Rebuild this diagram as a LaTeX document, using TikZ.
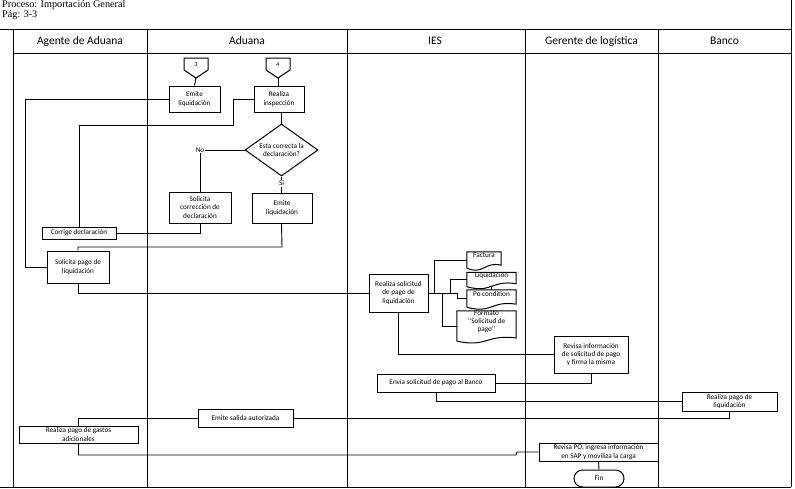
\documentclass[tikz,border=0pt]{standalone}
\usepackage{fontspec}
\setmainfont{Carlito}
\newfontfamily\titlefont{Liberation Serif}
\usetikzlibrary{calc,shapes.geometric}
\newcommand\docshape[1]{\draw[boxline] (#1.south west) -- (#1.north west) -- (#1.north east) -- ($(#1.south east)+(0,-3)$) .. controls ($(#1.south)+(0,-7)$) and ($(#1.south)+(0,7)$) .. (#1.south west);}
\tikzset{
  boxline/.style={line width=1pt},
  lane/.style={line width=0.9pt},
  conn/.style={line width=0.9pt},
  box/.style={draw, boxline, fill=white, inner sep=0pt, align=center, font=\fontsize{7.2}{8.4}\selectfont},
  doc/.style={inner sep=0pt, align=center, font=\fontsize{7.2}{8}\selectfont},
  head/.style={font=\fontsize{11.5}{13}\selectfont, inner sep=0pt},
  lbl/.style={font=\fontsize{7.2}{8}\selectfont, inner sep=0.5pt, fill=white},
}
\begin{document}
\begin{tikzpicture}[x=1pt,y=-1pt]
\useasboundingbox (0,0) rectangle (795,488);
% title
\node[anchor=north west, font=\titlefont\fontsize{10.2}{10}\selectfont, align=left, inner sep=0pt] (title) at (2,0.5) {Proceso: Importación General\\Pág: 3-3};
% frame and lanes
\draw[lane] (0,29) -- (791,29);
\draw[lane] (13,53) -- (791,53);
\draw[lane] (0,487) -- (791,487);
\draw[lane] (791,0) -- (791,487);
\draw[lane] (13,29) -- (13,487);
\draw[lane] (147,29) -- (147,487);
\draw[lane] (347,29) -- (347,487);
\draw[lane] (525,29) -- (525,487);
\draw[lane] (658,29) -- (658,487);
\node[head] (h1) at (80,41) {Agente de Aduana};
\node[head] (h2) at (247,41) {Aduana};
\node[head] (h3) at (435,41) {IES};
\node[head] (h4) at (591.5,41) {Gerente de logística};
\node[head] (h5) at (724.5,41) {Banco};
% off-page connectors
\draw[boxline, fill=white] (184,58) -- (208,58) -- (208,70) -- (196,78) -- (184,70) -- cycle;
\node[font=\fontsize{6}{7}\selectfont, inner sep=0pt] (c3) at (196,65) {3};
\coordinate (c3tip) at (196,78);
\draw[boxline, fill=white] (266,58) -- (290,58) -- (290,70) -- (278,78) -- (266,70) -- cycle;
\node[font=\fontsize{6}{7}\selectfont, inner sep=0pt] (c4) at (278,65) {4};
\coordinate (c4tip) at (278,78);
% Aduana
\node[box, minimum width=51, minimum height=26] (e1) at (194.5,99) {Emite\\liquidación};
\node[box, minimum width=50, minimum height=26] (ri) at (279,99) {Realiza\\inspección};
\node[box, shape=diamond, aspect=1.4, minimum width=73, minimum height=52] (dia) at (281.5,150) {Esta correcta la\\declaración?};
\node[lbl] (no) at (200,150) {No};
\node[lbl] (si) at (281.5,183.5) {Si};
\node[box, minimum width=62, minimum height=31] (sol) at (200,207.5) {Solicita\\corrección de\\declaración};
\node[box, minimum width=60, minimum height=30] (e2) at (282,208) {Emite\\liquidación};
% Agente
\node[box, minimum width=74, minimum height=12] (cor) at (79,233) {Corrige declaración};
\node[box, minimum width=62, minimum height=32] (sp) at (78,267) {Solicita pago de\\liquidación};
% IES
\node[box, minimum width=59, minimum height=38] (rs) at (398.5,293) {Realiza solicitud\\de pago de\\liquidación};
\node[doc, minimum width=34, minimum height=16] (fac) at (484,260) {Factura\\[1pt]};
\docshape{fac}
\node[doc, minimum width=49, minimum height=11] (liq) at (491.5,279.5) {Liquidación\\[1pt]};
\docshape{liq}
\node[doc, minimum width=49, minimum height=17] (po) at (491.5,298.5) {Po condition\\[1pt]};
\docshape{po}
\node[doc, minimum width=59, minimum height=28] (fmt) at (486.5,326) {Formato\\\symbol{96}\symbol{96}Solicitud de\\pago\symbol{96}\symbol{96}\\[1pt]};
\docshape{fmt}
\node[box, minimum width=118, minimum height=18] (env) at (436,383) {Envía solicitud de pago al Banco};
% Gerente
\node[box, minimum width=74, minimum height=37] (ri2) at (591,354.5) {Revisa información\\de solicitud de pago\\y firma la misma};
\node[box, minimum width=119, minimum height=18] (rpo) at (598.5,452) {Revisa PO, ingresa información\\en SAP y moviliza la carga};
\node[box, rounded corners=8.5pt, minimum width=50, minimum height=17] (fin) at (599,478.5) {Fin};
% Banco
\node[box, minimum width=95, minimum height=19] (bp) at (729.5,401.5) {Realiza pago de\\liquidación};
% bottom Aduana / Agente
\node[box, minimum width=95, minimum height=18] (es) at (245.5,418) {Emite salida autorizada};
\node[box, minimum width=119, minimum height=17] (gas) at (78.5,434.5) {Realiza pago de gastos\\adicionales};
% junctions
\coordinate (j1) at (434,293);
\coordinate (j2) at (442,293);
\coordinate (j3) at (450,293);
\coordinate (j4) at (457,293);
\coordinate (k1) at (517,454);
% connectors
\draw[conn] (c3tip) -- (e1.north);
\draw[conn] (c4tip) -- (c4tip |- ri.north);
\draw[conn] (e1.west) -- (25,99) |- (sp.west);
\draw[conn] (ri.west) -- (233,99) -- (233,125) -| (cor.north);
\draw[conn] (ri.south -| dia.north) -- (dia.north);
\draw[conn] (dia.west) -- (no.east);
\draw[conn] (no.south) -- (sol.north);
\draw[conn] (dia.south) -- (si.north);
\draw[conn] (si.south) -- (si.south |- e2.north);
\draw[conn] (sol.south) |- (cor.east);
\draw[conn] (e2.south -| si.south) -- (282,247) -| (sp.north);
\draw[conn] (sp.south) |- (rs.west);
\draw[conn] (rs.east) -- (j4) |- (po.west);
\draw[conn] (j1) |- (fac.west);
\draw[conn] (j3) |- (liq.west);
\draw[conn] (j2) |- (fmt.west);
\draw[conn] (liq.south) -- (po.north);
\draw[conn] (rs.south) |- (ri2.west);
\draw[conn] (ri2.south) |- (env.east);
\draw[conn] (env.south) |- (bp.west);
\draw[conn] (bp.south) |- (es.east);
\draw[conn] (es.west) -| (gas.north);
\draw[conn] (gas.south) |- (516,455) -- (k1 |- rpo.west) -- (rpo.west);
\draw[conn] (rpo.south) -- (fin.north);
\end{tikzpicture}
\end{document}
